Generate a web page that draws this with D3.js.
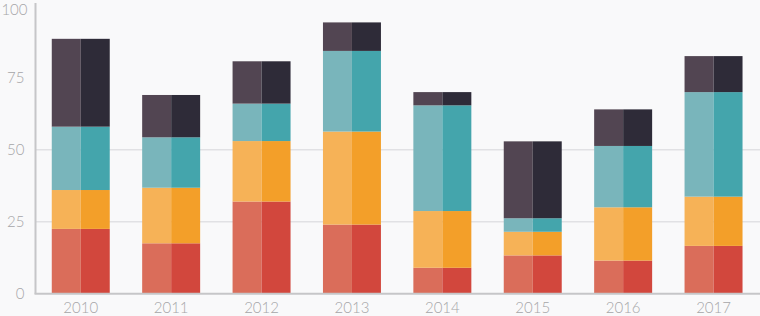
<!DOCTYPE html>
<html><head><meta charset="utf-8">
<script src="https://cdn.jsdelivr.net/npm/d3@7"></script>
<style>html,body{margin:0;padding:0;background:#f9f9fa;}svg{display:block;}</style>
</head><body>
<svg id="chart" width="760" height="316"></svg>
<script>
const years = ["2010","2011","2012","2013","2014","2015","2016","2017"];
const seriesNames = ["red","orange","teal","dark"];
const red    = [22.5, 17.5, 32.0, 24.0,  9.0, 13.3, 11.5, 16.6];
const orange = [13.5, 19.3, 21.0, 32.3, 19.7,  8.2, 18.5, 17.1];
const teal   = [22.0, 17.5, 13.0, 28.0, 36.7,  4.7, 21.3, 36.3];
const dark   = [30.5, 14.7, 14.7,  9.9,  4.6, 26.7, 12.7, 12.5];
const yTicks = [0, 25, 50, 75, 100];
const gridTicks = [25, 50];
const lightColors = ["#da6d5a", "#f6b257", "#79b5bb", "#524552"];
const darkColors  = ["#d2473d", "#f39f29", "#44a5ac", "#2e2b38"];

const svg = d3.select("#chart");
const x0 = 35.5, x1 = 758.8, yBase = 293.7, yTop = 5.7;
const x = d3.scaleBand().domain(years).range([x0, x1]).paddingInner(0.3586).paddingOuter(0.18);
const y = d3.scaleLinear().domain([0, 100]).range([yBase, yTop]);

const table = years.map((yr, i) => ({year: yr, red: red[i], orange: orange[i], teal: teal[i], dark: dark[i]}));
const stacked = d3.stack().keys(seriesNames)(table);

// gridlines
svg.append("g").selectAll("line").data(gridTicks).join("line")
  .attr("x1", x0).attr("x2", 760)
  .attr("y1", d => y(d)).attr("y2", d => y(d))
  .attr("stroke", "#e1e1e4").attr("stroke-width", 1.5);

// bars: each band split into lighter left half and darker right half
const bw = x.bandwidth();
stacked.forEach((s, si) => {
  const g = svg.append("g");
  g.selectAll("rect.l").data(s).join("rect").attr("class", "l")
    .attr("x", d => x(d.data.year)).attr("width", bw / 2)
    .attr("y", d => y(d[1])).attr("height", d => y(d[0]) - y(d[1]))
    .attr("fill", lightColors[si]);
  g.selectAll("rect.r").data(s).join("rect").attr("class", "r")
    .attr("x", d => x(d.data.year) + bw / 2).attr("width", bw / 2)
    .attr("y", d => y(d[1])).attr("height", d => y(d[0]) - y(d[1]))
    .attr("fill", darkColors[si]);
});

// axes
const font = "Lato, 'Open Sans', sans-serif";
const yAxis = svg.append("g").attr("transform", `translate(${x0},0)`)
  .call(d3.axisLeft(y).tickValues(yTicks).tickSize(0).tickPadding(11));
yAxis.select(".domain").attr("d", `M0,3V${yBase}`).attr("stroke", "#c6c6c8").attr("stroke-width", 2);
yAxis.selectAll("text").attr("fill", "#a6a6a8").style("font-family", font).style("font-size", "15px").style("font-weight", 300);
yAxis.selectAll(".tick").filter(d => d === 100).select("text").attr("x", -8).attr("dy", "0.6em");

const xAxis = svg.append("g").attr("transform", `translate(0,${yBase})`)
  .call(d3.axisBottom(x).tickSize(0).tickPadding(9));
xAxis.select(".domain").attr("d", `M${x0 - 1},0H760`).attr("stroke", "#c6c6c8").attr("stroke-width", 2);
xAxis.selectAll("text").attr("fill", "#a6a6a8").style("font-family", font).style("font-size", "15px").style("font-weight", 300);
</script>
</body></html>
